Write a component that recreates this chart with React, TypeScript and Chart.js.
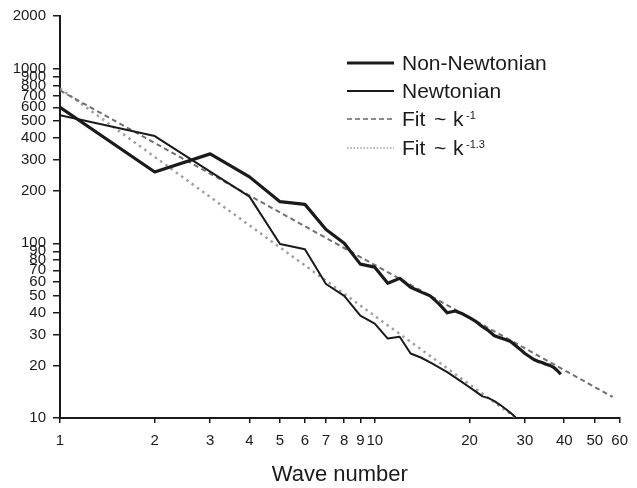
import { useEffect, useRef } from "react";
import { Chart, registerables } from "chart.js";

Chart.register(...registerables);

// ---- data ----
const nonNewtonianK = [
  1, 2, 3, 4, 5, 6, 7, 8, 9, 10, 11, 12, 13, 14, 15, 16, 17, 18, 19, 20,
  21, 22, 23, 24, 25, 26, 27, 28, 29, 30, 31, 32, 33, 34, 35, 36, 37, 38, 39,
];
const nonNewtonianE = [
  600, 256, 325, 240, 173, 167, 120, 100, 76, 73, 59, 63, 56, 52.7, 50, 45, 40,
  41, 39.5, 37.5, 35.6, 33.3, 31.6, 29.6, 28.8, 28.1, 27.4, 26, 24.7, 23.4,
  22.5, 21.6, 21.1, 20.8, 20.3, 20, 19.5, 18.7, 17.8,
];
const newtonianK = [
  1, 2, 3, 4, 5, 6, 7, 8, 9, 10, 11, 12, 13, 14, 15, 16, 17, 18, 19, 20, 21,
  22, 23, 24, 25, 26, 27, 28, 29,
];
const newtonianE = [
  541, 411, 257, 185, 99, 92.5, 58.5, 50, 38.5, 34.7, 28.5, 29.2, 23.4, 22.2,
  20.8, 19.5, 18.3, 17.1, 16, 15, 14.1, 13.3, 13, 12.5, 11.9, 11.3, 10.7, 10.1,
  9.6,
];
const fitK1X = [1, 57];
const fitK1Y = [750, 13.2];
const fitK13X = [1, 29];
const fitK13Y = [770, 9.6];

const xTickValues = [1, 2, 3, 4, 5, 6, 7, 8, 9, 10, 20, 30, 40, 50, 60];
const yTickValues = [
  10, 20, 30, 40, 50, 60, 70, 80, 90, 100, 200, 300, 400, 500, 600, 700, 800,
  900, 1000, 2000,
];

const seriesNames = ["Non-Newtonian", "Newtonian", "Fit ~ k", "Fit ~ k"];
const fitExponents = ["-1", "-1.3"];
const xTitle = "Wave number";

const FONT = '"Liberation Sans", Arial, Helvetica, sans-serif';
const INK = "#1a1a1a";

const pts = (xs: number[], ys: number[]) => xs.map((x, i) => ({ x, y: ys[i] }));

const legendPlugin = {
  id: "customLegend",
  afterDraw(chart: any) {
    const ctx = chart.ctx as CanvasRenderingContext2D;
    ctx.save();
    const lx0 = 347;
    const lx1 = 394;
    const tx = 402;
    const rows = [63, 91, 119, 148];
    const styles = [
      { w: 3.2, c: INK, d: [] as number[] },
      { w: 2, c: INK, d: [] as number[] },
      { w: 1.5, c: "#666", d: [5, 3] },
      { w: 1.5, c: "#9a9a9a", d: [1.5, 1.8] },
    ];
    rows.forEach((y, i) => {
      const s = styles[i];
      ctx.beginPath();
      ctx.setLineDash(s.d);
      ctx.lineWidth = s.w;
      ctx.strokeStyle = s.c;
      ctx.moveTo(lx0, y);
      ctx.lineTo(lx1, y);
      ctx.stroke();
      ctx.setLineDash([]);
      ctx.fillStyle = INK;
      ctx.textBaseline = "middle";
      ctx.textAlign = "left";
      ctx.font = `21px ${FONT}`;
      if (i < 2) {
        ctx.fillText(seriesNames[i], tx, y + 1);
      } else {
        ctx.fillText("Fit", tx, y + 1);
        ctx.fillText("~", tx + 32, y + 1);
        ctx.fillText("k", tx + 51, y + 1);
        ctx.font = `11px ${FONT}`;
        ctx.textBaseline = "alphabetic";
        ctx.fillText(fitExponents[i - 2], tx + 64, y);
      }
    });
    ctx.restore();
  },
};

export default function App() {
  const ref = useRef<HTMLCanvasElement | null>(null);

  useEffect(() => {
    document.body.style.margin = "0";
    const canvas = ref.current;
    if (!canvas) return;
    const tickFont = { family: FONT, size: 15 };
    const chart = new Chart(canvas, {
      type: "line",
      data: {
        datasets: [
          {
            label: seriesNames[0],
            data: pts(nonNewtonianK, nonNewtonianE),
            borderColor: INK,
            borderWidth: 3.2,
            pointRadius: 0,
            tension: 0,
            fill: false,
            borderJoinStyle: "round",
          },
          {
            label: seriesNames[1],
            data: pts(newtonianK, newtonianE),
            borderColor: INK,
            borderWidth: 2,
            pointRadius: 0,
            tension: 0,
            fill: false,
            borderJoinStyle: "round",
          },
          {
            label: seriesNames[2] + fitExponents[0],
            data: pts(fitK1X, fitK1Y),
            borderColor: "#707070",
            borderWidth: 2,
            borderDash: [5, 3.5],
            pointRadius: 0,
            fill: false,
          },
          {
            label: seriesNames[3] + fitExponents[1],
            data: pts(fitK13X, fitK13Y),
            borderColor: "#a0a0a0",
            borderWidth: 2.5,
            borderDash: [2.5, 4],
            pointRadius: 0,
            fill: false,
          },
        ],
      },
      options: {
        responsive: false,
        animation: false,
        devicePixelRatio: 1,
        layout: { padding: { top: 13, right: 9, left: 0, bottom: 0 } },
        plugins: {
          legend: { display: false },
          tooltip: { enabled: false },
          title: { display: false },
        },
        scales: {
          x: {
            type: "logarithmic",
            min: 1,
            max: 60,
            afterBuildTicks: (s: any) => {
              s.ticks = xTickValues.map((v) => ({ value: v }));
            },
            afterFit: (s: any) => {
              s.height = 70;
            },
            grid: {
              display: true,
              drawOnChartArea: false,
              drawTicks: true,
              tickLength: 5,
              tickColor: INK,
              lineWidth: 1.5,
            },
            border: { display: true, color: INK, width: 2 },
            ticks: {
              autoSkip: false,
              maxRotation: 0,
              minRotation: 0,
              padding: 9,
              color: INK,
              font: tickFont,
              callback: (v: any) => String(v),
            },
            title: {
              display: true,
              text: xTitle,
              color: INK,
              font: { family: FONT, size: 22 },
              padding: { top: 0, bottom: 0 },
            },
          },
          y: {
            type: "logarithmic",
            min: 10,
            max: 2000,
            afterBuildTicks: (s: any) => {
              s.ticks = yTickValues.map((v) => ({ value: v }));
            },
            afterFit: (s: any) => {
              s.width = 60;
            },
            grid: {
              display: true,
              drawOnChartArea: false,
              drawTicks: true,
              tickLength: 7,
              tickColor: INK,
              lineWidth: 1.5,
            },
            border: { display: true, color: INK, width: 2 },
            ticks: {
              autoSkip: false,
              padding: 7,
              color: INK,
              font: tickFont,
              callback: (v: any) => String(v),
            },
          },
        },
      } as any,
      plugins: [legendPlugin],
    });
    return () => chart.destroy();
  }, []);

  return (
    <div style={{ width: 637, height: 488, background: "#fff" }}>
      <canvas ref={ref} width={637} height={488} style={{ display: "block" }} />
    </div>
  );
}
